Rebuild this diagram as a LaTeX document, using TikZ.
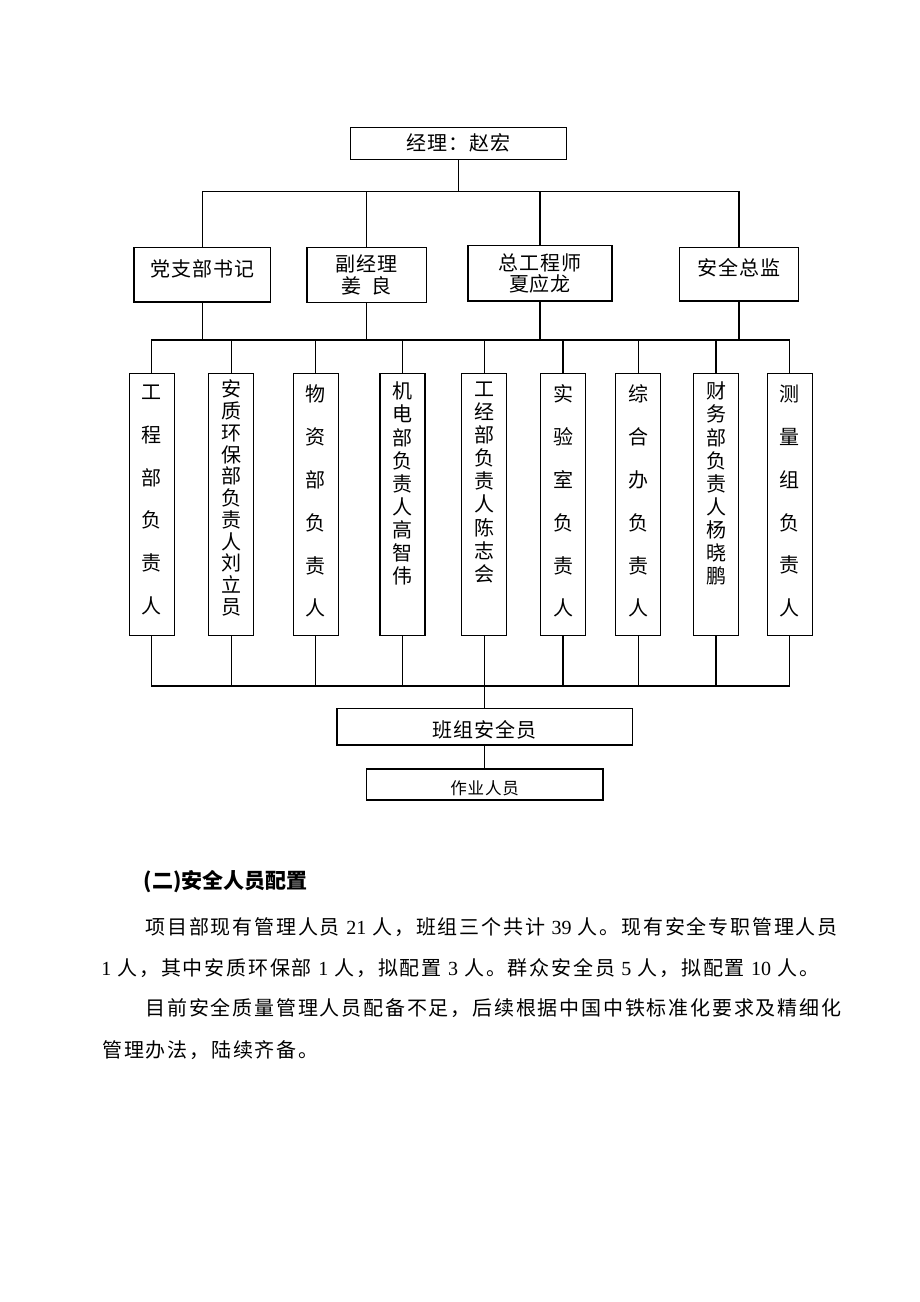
\documentclass[tikz,border=0pt]{standalone}
\usepackage{fontspec}
\setmainfont{Noto Sans CJK SC}
\newfontfamily\boxfont[LetterSpace=5]{Noto Sans CJK SC}
\newfontfamily\smallboxfont[LetterSpace=5]{Noto Sans CJK SC}
\newfontfamily\bodyfont[LetterSpace=9]{Noto Sans CJK SC}
\newfontfamily\latinfont{Liberation Serif}
\newcommand{\numtxt}[1]{{\latinfont #1}}
% vertical text in the tall boxes: top space, line distance, text
\newcommand{\vtext}[3]{\parbox[c][196.5pt][t]{33.75pt}{\centering\fontsize{15pt}{#2}\selectfont\vspace*{#1}#3}}
\usetikzlibrary{positioning}

\begin{document}
\begin{tikzpicture}[
    x=0.75pt, y=-0.75pt, % one unit is one pixel of the page
    node distance=17pt,
    line width=0.9pt,
    block/.style={rectangle, draw, align=center, inner sep=0pt, font=\boxfont\fontsize{15pt}{16.3pt}\selectfont},
    lift/.style={text height=13pt, text depth=10.6pt},
    column/.style={rectangle, draw, inner sep=0pt},
    para/.style={anchor=west, inner sep=0pt, font=\bodyfont\fontsize{15pt}{17pt}\selectfont}
]
    \useasboundingbox (0,0) rectangle (920,1302);

    % Nodes
    \node (jl) [block, minimum width=162pt, minimum height=24pt] at (458.7,143.3) {经理：赵宏};

    \node (dzb) [block, lift, minimum width=102.2pt, minimum height=41pt] at (202.2,274.7) {党支部书记};
    \node (fjl) [block, minimum width=89.5pt, minimum height=41.5pt] at (366.7,275) {副经理\\姜\hspace{0.5em}良};
    \node (zgc) [block, minimum width=108pt, minimum height=41.5pt] at (540,273.4) {总工程师\\夏应龙};
    \node (aqzj) [block, lift, minimum width=89.5pt, minimum height=40.3pt] at (739,274.2) {安全总监};

    \node (gcb) [column] at (151.8,504.3) {\vtext{8.8pt}{32.1pt}{工\\程\\部\\负\\责\\人}};
    \node (azhb) [column] at (231.2,504.3) {\vtext{5.1pt}{16.3pt}{安\\质\\环\\保\\部\\负\\责\\人\\刘\\立\\员}};
    \node (wzb) [column] at (315.8,504.3) {\vtext{8.8pt}{32.1pt}{物\\资\\部\\负\\责\\人}};
    \node (jdb) [column] at (402.5,504.3) {\vtext{6.6pt}{17.3pt}{机\\电\\部\\负\\责\\人\\高\\智\\伟}};
    \node (gjb) [column] at (484.3,504.3) {\vtext{6.6pt}{17.3pt}{工\\经\\部\\负\\责\\人\\陈\\志\\会}};
    \node (sys) [column] at (563,504.3) {\vtext{8.8pt}{32.1pt}{实\\验\\室\\负\\责\\人}};
    \node (zhb) [column] at (638.2,504.3) {\vtext{8.8pt}{32.1pt}{综\\合\\办\\负\\责\\人}};
    \node (cwb) [column] at (716,504.3) {\vtext{6.6pt}{17.3pt}{财\\务\\部\\负\\责\\人\\杨\\晓\\鹏}};
    \node (clz) [column] at (789.8,504.3) {\vtext{8.8pt}{32.1pt}{测\\量\\组\\负\\责\\人}};

    \node (bzaqy) [block, minimum width=221.5pt, minimum height=27.5pt, text height=16.2pt, text depth=0.3pt] at (484.7,726.7) {班组安全员};
    \node (zyry) [block, below=of bzaqy, minimum width=177.5pt, minimum height=23.25pt, text height=14.8pt, text depth=0.2pt, font=\smallboxfont\fontsize{12.4pt}{14pt}\selectfont] {作业人员};

    \coordinate (topbus) at (458.7,191.7);
    \coordinate (midbus) at (458.7,340);
    \coordinate (lowbus) at (484.3,686);

    % Connections
    \draw (jl.south) -- (jl.south |- topbus);
    \draw (dzb.north) |- (aqzj.north |- topbus) -- (aqzj.north);
    \foreach \n in {fjl,zgc}
        \draw (\n.north) -- (\n.north |- topbus);

    \foreach \n in {dzb,fjl,zgc,aqzj}
        \draw (\n.south) -- (\n.south |- midbus);
    \draw (gcb.north) |- (clz.north |- midbus) -- (clz.north);
    \foreach \n in {azhb,wzb,jdb,gjb,sys,zhb,cwb}
        \draw (\n.north) -- (\n.north |- midbus);

    \draw (gcb.south) |- (clz.south |- lowbus) -- (clz.south);
    \foreach \n in {azhb,wzb,jdb,gjb,sys,zhb,cwb}
        \draw (\n.south) -- (\n.south |- lowbus);
    \draw (bzaqy.north |- lowbus) -- (bzaqy.north);
    \draw (bzaqy) -- (zyry);

    % Text below the chart
    \node (title) [anchor=west, inner sep=0pt, font=\bfseries\fontsize{15.75pt}{18pt}\selectfont] at (143.3,881.7) {(二)安全人员配置};
    \node (line1) [para] at (145,927.5) {\makebox[519pt][s]{项目部现有管理人员 \numtxt{21} 人，班组三个共计 \numtxt{39} 人。现有安全专职管理人员}};
    \node (line2) [para] at (100.7,968.3) {\numtxt{1} 人，其中安质环保部 \numtxt{1} 人，拟配置 \numtxt{3} 人。群众安全员 \numtxt{5} 人，拟配置 \numtxt{10} 人。};
    \node (line3) [para] at (145,1008.5) {目前安全质量管理人员配备不足，后续根据中国中铁标准化要求及精细化};
    \node (line4) [para] at (101.7,1050) {管理办法，陆续齐备。};

\end{tikzpicture}
\end{document}
